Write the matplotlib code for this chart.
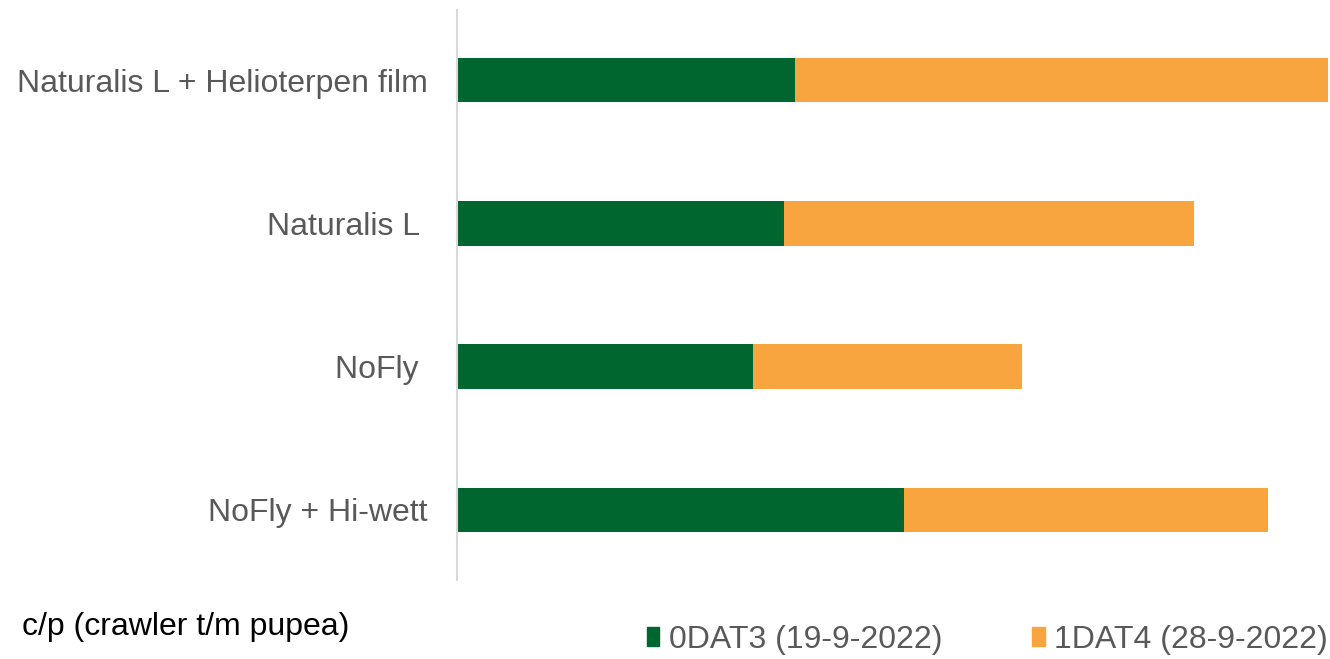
import matplotlib.pyplot as plt
from matplotlib.patches import Patch

# treatments, top to bottom
categories = ['Naturalis L + Helioterpen film', 'Naturalis L ', 'NoFly ', 'NoFly + Hi-wett']
dat3 = [33.8, 32.7, 29.6, 44.7]   # 0DAT3 (19-9-2022)
dat4 = [53.3, 41.0, 26.9, 36.4]   # 1DAT4 (28-9-2022)
series_names = ['0DAT3 (19-9-2022)', '1DAT4 (28-9-2022)']

green = '#00662F'
orange = '#F9A53F'
grey = '#595959'

plt.rcParams['font.family'] = ['Liberation Sans', 'DejaVu Sans']

fig = plt.figure(figsize=(13.3, 6.59), dpi=100)
ax = fig.add_axes([457/1330, 1 - 580/659, (1328 - 457)/1330, 570/659])

ypos = list(range(len(categories)))
ax.barh(ypos, dat3, height=0.31, color=green)
ax.barh(ypos, dat4, left=dat3, height=0.31, color=orange)

ax.set_yticks(ypos)
ax.set_yticklabels(categories, fontsize=23, color=grey)
ax.tick_params(axis='y', length=0, pad=21)
ax.set_xticks([])
ax.set_ylim(3.49, -0.49)
totals = [a + b for a, b in zip(dat3, dat4)]
ax.set_xlim(0, max(totals))

for s in ['top', 'right', 'bottom']:
    ax.spines[s].set_visible(False)
ax.spines['left'].set_color('#D9D9D9')
ax.spines['left'].set_linewidth(1.5)

fig.text(22/1330, 1 - 627/659, 'c/p (crawler t/m pupea)', fontsize=23,
         color='black', va='center', ha='left')

handles = [Patch(color=green), Patch(color=orange)]
fig.legend(handles, series_names, loc='center right', bbox_to_anchor=(1328/1330, 1 - 640/659),
           ncol=2, frameon=False, fontsize=23, labelcolor=grey, borderaxespad=0, borderpad=0,
           handlelength=0.4, handleheight=0.55, handletextpad=0.3, columnspacing=2.8)

fig.savefig('out.png', dpi=100)
